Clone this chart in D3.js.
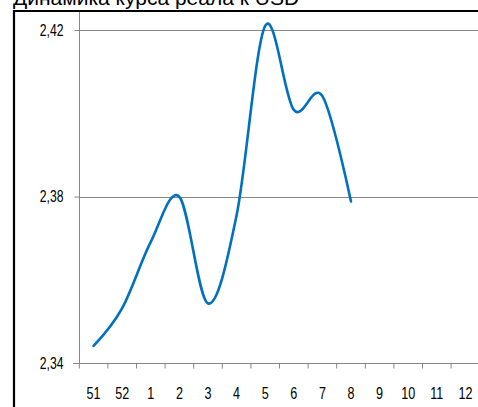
<!DOCTYPE html>
<html><head><meta charset="utf-8">
<script src="https://cdn.jsdelivr.net/npm/d3@7/dist/d3.min.js"></script>
<style>html,body{margin:0;padding:0;background:#fff;overflow:hidden}</style>
</head><body>
<svg id="c" width="478" height="407"></svg>
<script>
const title = "Динамика курса реала к USD";
const weeks = ["51","52","1","2","3","4","5","6","7","8","9","10","11","12"];
const rateWeeks = ["51","52","1","2","3","4","5","6","7","8"];
const rate = [2.3441, 2.3532, 2.3691, 2.3799, 2.3543, 2.3755, 2.4210, 2.4008, 2.4041, 2.3788];
const yTicks = [2.34, 2.38, 2.42];

const svg = d3.select("#c");
const font = "'Liberation Sans',Arial,sans-serif";
const sx = 0.74;

const x = d3.scaleBand().domain(weeks).range([79.3, 479.7]);
const y = d3.scaleLinear().domain([2.34, 2.42]).range([363, 30]);

// title (clipped at top, as in the reference)
svg.append("text").attr("x", 13).attr("y", 5)
  .attr("font-family", font).attr("font-size", 21)
  .attr("fill", "#000").text(title);

// border
svg.append("path").attr("d", "M14,420 V11 H500").attr("fill", "none")
  .attr("stroke", "#000").attr("stroke-width", 2.2);

// gridlines
svg.append("g").selectAll("line").data(yTicks.slice(1)).join("line")
  .attr("x1", 79).attr("x2", 480).attr("y1", d => Math.round(y(d)) + 0.5).attr("y2", d => Math.round(y(d)) + 0.5)
  .attr("stroke", "#868686").attr("stroke-width", 1);

// y axis
const ya = svg.append("g").attr("transform", "translate(79.5,0)")
  .call(d3.axisLeft(y).tickValues(yTicks).tickSize(5).tickPadding(11).tickFormat(d => d3.format(".2f")(d).replace(".", ",")));
ya.select(".domain").remove();
ya.append("line").attr("x1", 0).attr("x2", 0).attr("y1", 12).attr("y2", 363).attr("stroke", "#868686");
ya.selectAll(".tick line").attr("stroke", "#868686");
ya.selectAll(".tick text").each(function() {
  const t = d3.select(this);
  const xx = +t.attr("x");
  t.attr("x", xx / sx).attr("transform", `scale(${sx},1)`);
}).attr("font-family", font).attr("font-size", 16.5).attr("fill", "#000");

// x axis
const xa = svg.append("g").attr("transform", "translate(0,363.5)")
  .call(d3.axisBottom(x).tickSize(0).tickPadding(23));
xa.select(".domain").attr("stroke", "#868686").attr("d", "M73,0H480");
xa.selectAll(".tick text").attr("transform", `scale(${sx},1)`)
  .attr("font-family", font).attr("font-size", 17).attr("fill", "#000");
xa.selectAll(".bt").data(weeks).join("line").attr("class", "bt")
  .attr("x1", d => x(d)).attr("x2", d => x(d)).attr("y1", 0).attr("y2", 5)
  .attr("stroke", "#868686");

// line
const line = d3.line().x((d, i) => x(rateWeeks[i]) + x.bandwidth() / 2).y(d => y(d))
  .curve(d3.curveCardinal.tension(0));
svg.append("path").datum(rate).attr("d", line).attr("fill", "none")
  .attr("stroke", "#0070C0").attr("stroke-width", 2.6).attr("stroke-linecap", "round");
</script>
</body></html>
